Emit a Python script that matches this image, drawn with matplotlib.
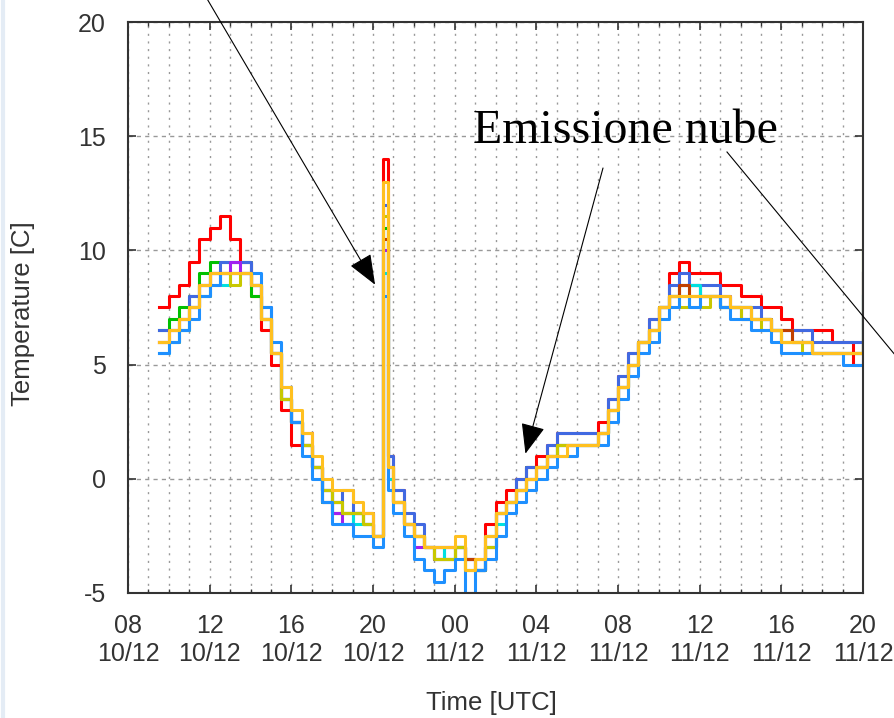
import pandas as pd
import matplotlib
matplotlib.use("Agg")
import matplotlib.pyplot as plt
import matplotlib.dates as mdates
from matplotlib.lines import Line2D

plt.rcParams['font.family'] = ['Liberation Sans', 'DejaVu Sans']
plt.rcParams['axes.unicode_minus'] = False

# campioni ogni 30 minuti, dal 10/12 09:30 al 11/12 20:00,
# piu' un campione alle 20:45 per il picco
tempi = pd.date_range('2012-12-10 09:30', periods=70, freq='30min')
tempi = tempi.insert(23, pd.Timestamp('2012-12-10 20:45'))

rosso = [7.5, 8.0, 8.5, 9.5, 10.5, 11.0, 11.5, 10.5, 9.5, 8.0,
         6.5, 5.0, 3.0, 1.5, 2.0, 0.5, -1.0, -1.5, -1.5, -1.5,
         -2.0, -2.5, 14.0, 1.0, -0.5, -2.0, -2.5, -3.0, -3.5, -3.5, -3.0,
         -3.5, -3.5, -2.0, -1.0, -0.5, 0.0, 0.5, 1.0, 1.5, 2.0,
         2.0, 2.0, 2.0, 2.5, 3.5, 4.5, 5.5, 6.0, 7.0, 7.5,
         9.0, 9.5, 9.0, 9.0, 9.0, 8.5, 8.5, 8.0, 8.0, 7.5,
         7.5, 7.0, 6.5, 6.5, 6.5, 6.5, 6.0, 6.0, 5.0, 6.0]
verde = [6.5, 7.0, 7.5, 8.0, 9.0, 9.5, 9.5, 9.5, 9.5, 8.0,
         7.0, 5.5, 3.5, 2.5, 1.5, 0.5, -1.0, -1.5, -1.5, -1.5,
         -2.0, -2.5, 11.0, 0.5, -1.0, -2.0, -2.5, -3.0, -3.5, -3.5, -3.0,
         -4.0, -4.0, -2.5, -1.5, -1.0, -0.5, 0.5, 0.5, 1.0, 1.5,
         1.5, 1.5, 1.5, 2.0, 3.0, 4.0, 5.0, 6.0, 6.5, 7.5,
         8.0, 8.5, 8.5, 8.0, 8.0, 7.5, 7.5, 7.5, 7.0, 7.0,
         6.5, 6.0, 6.0, 6.0, 5.5, 5.5, 5.5, 5.5, 5.5, 10.0]
blu = [6.5, 6.5, 7.0, 8.0, 8.5, 9.0, 9.5, 9.5, 9.5, 8.5,
       7.5, 5.5, 3.5, 2.5, 1.5, 0.5, -0.5, -1.0, -0.5, -1.5,
       -1.5, -2.5, 12.0, 1.0, -0.5, -1.5, -2.0, -3.0, -3.0, -3.0, -3.0,
       -3.5, -4.0, -2.5, -1.5, -1.0, 0.0, 0.5, 0.5, 1.5, 2.0,
       2.0, 2.0, 2.0, 2.0, 3.5, 4.5, 5.5, 6.0, 7.0, 7.5,
       8.5, 9.0, 8.5, 8.5, 8.5, 8.0, 7.5, 7.5, 7.5, 7.0,
       6.5, 6.5, 6.5, 6.5, 6.0, 6.0, 6.0, 6.0, 6.0, 9.0]
viola = [6.0, 6.5, 7.0, 7.5, 8.5, 9.0, 9.0, 9.5, 9.0, 8.5,
         7.0, 5.5, 3.5, 2.5, 1.5, 0.5, -0.5, -1.5, -2.0, -1.5,
         -2.0, -2.5, 10.0, 0.0, -1.0, -2.0, -3.0, -3.0, -3.5, -3.0, -3.0,
         -3.5, -4.0, -3.0, -1.5, -1.0, -0.5, 0.0, 0.5, 1.0, 1.5,
         1.5, 1.5, 1.5, 2.0, 3.0, 4.0, 5.0, 6.0, 6.5, 7.5,
         8.0, 8.5, 8.5, 8.0, 8.0, 8.0, 7.5, 7.5, 7.0, 7.0,
         6.5, 6.5, 6.0, 6.0, 5.5, 5.5, 5.5, 5.5, 5.5, 9.0]
ciano = [5.5, 6.0, 6.5, 7.5, 8.0, 9.0, 8.5, 9.0, 9.0, 8.5,
         7.0, 5.5, 3.5, 2.5, 1.5, 0.5, -0.5, -1.0, -1.5, -2.0,
         -2.0, -2.5, 9.0, 0.0, -1.0, -2.0, -2.5, -3.0, -3.0, -3.5, -3.0,
         -3.5, -4.0, -3.0, -2.0, -1.0, -0.5, 0.0, 0.5, 1.0, 1.5,
         1.5, 1.5, 1.5, 2.0, 3.0, 4.0, 5.0, 6.0, 6.5, 7.5,
         8.0, 8.0, 8.5, 8.0, 8.0, 7.5, 7.5, 7.5, 7.0, 7.0,
         6.5, 6.0, 6.0, 6.0, 5.5, 5.5, 5.5, 5.5, 5.5, 8.0]
marrone = [6.0, 6.5, 7.0, 7.5, 8.5, 9.0, 9.0, 9.0, 9.0, 8.5,
           7.0, 5.5, 3.5, 2.5, 1.5, 0.5, -0.5, -1.0, -1.5, -1.5,
           -1.5, -2.5, 10.5, 0.5, -1.0, -2.0, -2.5, -3.0, -3.0, -3.0, -3.0,
           -3.5, -4.0, -3.0, -1.5, -1.0, -0.5, 0.0, 0.5, 1.0, 1.5,
           1.5, 1.5, 1.5, 2.0, 3.0, 4.0, 5.0, 6.0, 6.5, 7.5,
           8.0, 8.5, 8.0, 8.0, 8.0, 7.5, 7.5, 7.0, 7.0, 7.0,
           6.5, 6.5, 6.0, 6.0, 5.5, 5.5, 5.5, 5.5, 5.5, 9.0]
oliva = [6.0, 6.0, 6.5, 7.5, 8.0, 8.5, 9.0, 8.5, 9.0, 8.5,
         7.0, 5.5, 3.5, 2.5, 1.5, 0.5, -0.5, -1.0, -1.5, -1.5,
         -2.0, -2.5, 11.5, 0.5, -1.0, -2.0, -2.5, -3.0, -3.5, -3.5, -3.0,
         -4.0, -4.0, -3.0, -1.5, -1.0, -0.5, 0.0, 0.5, 1.0, 1.5,
         1.5, 1.5, 1.5, 2.0, 3.0, 4.0, 5.0, 6.0, 6.5, 7.5,
         8.0, 7.5, 8.0, 7.5, 8.0, 7.5, 7.5, 7.0, 7.0, 6.5,
         6.5, 6.0, 6.0, 5.5, 5.5, 5.5, 5.5, 5.5, 5.5, 10.0]
azzurro = [5.5, 6.0, 6.5, 7.0, 8.0, 8.5, 9.0, 9.0, 9.0, 9.0,
           7.5, 6.0, 4.0, 2.5, 1.0, 0.0, -1.0, -2.0, -2.0, -2.5,
           -2.5, -3.0, 8.0, -0.5, -1.5, -2.5, -3.5, -4.0, -4.5, -4.0, -3.5,
           -5.0, -4.0, -3.5, -2.5, -1.5, -1.0, -0.5, 0.0, 0.5, 1.0,
           1.0, 1.5, 1.5, 1.5, 2.5, 3.5, 4.5, 5.5, 6.0, 7.0,
           7.5, 8.0, 7.5, 8.0, 8.0, 7.5, 7.0, 7.0, 6.5, 6.5,
           6.0, 5.5, 5.5, 5.5, 5.5, 5.5, 5.5, 5.0, 5.0, 8.0]
arancio = [6.0, 6.5, 7.0, 7.5, 8.5, 9.0, 9.0, 9.0, 9.0, 8.5,
           7.0, 5.5, 4.0, 3.0, 2.0, 1.0, 0.0, -0.5, -0.5, -1.0,
           -1.5, -2.5, 13.0, 0.5, -1.0, -2.0, -2.5, -3.0, -3.0, -3.0, -2.5,
           -4.0, -3.5, -2.5, -1.5, -1.0, -0.5, 0.0, 0.5, 1.0, 1.0,
           1.5, 1.5, 1.5, 2.0, 3.0, 4.0, 5.0, 6.0, 6.5, 7.5,
           8.0, 8.0, 8.0, 8.0, 8.0, 8.0, 7.5, 7.5, 7.0, 7.0,
           6.5, 6.0, 6.0, 6.0, 5.5, 5.5, 5.5, 5.5, 5.5, 15.5]

serie = [(rosso, '#ff0000'), (verde, '#00c000'), (blu, '#4169e1'),
         (viola, '#a020f0'), (ciano, '#00e0e0'), (marrone, '#c04000'),
         (oliva, '#c8c800'), (azzurro, '#1e90ff'), (arancio, '#ffc020')]

fig = plt.figure(figsize=(8.95, 7.18), dpi=100)
ax = fig.add_axes([128/895, 1 - 593/718, 735/895, 571/718])

for valori, colore in serie:
    ax.step(tempi, valori, where='post', color=colore, lw=2.2)

ax.set_xlim(pd.Timestamp('2012-12-10 08:00'), pd.Timestamp('2012-12-11 20:00'))
ax.set_ylim(-5, 20)
ax.set_yticks(range(-5, 21, 5))
ax.xaxis.set_major_locator(mdates.HourLocator(byhour=range(0, 24, 4)))
ax.xaxis.set_minor_locator(mdates.HourLocator())
ax.xaxis.set_major_formatter(mdates.DateFormatter('%H\n%d/%m'))

ax.grid(which='both', axis='x', ls=(0, (1.5, 4)), color='#999999', lw=1)
ax.grid(which='major', axis='y', ls=(0, (3, 3)), color='#999999', lw=1)
ax.set_axisbelow(True)

ax.tick_params(which='both', direction='in', top=True, right=True,
               color='#333333', labelcolor='#333333', labelsize=18)
ax.tick_params(which='major', length=6, width=1.2)
ax.tick_params(which='minor', length=3, width=1)
ax.tick_params(axis='x', pad=15)
ax.tick_params(axis='y', pad=16)
for s in ax.spines.values():
    s.set_color('#333333')
    s.set_linewidth(1.5)

ax.set_xlabel('Time [UTC]', fontsize=18.5, color='#333333')
ax.xaxis.set_label_coords(0.495, -0.172)
ax.set_ylabel('Temperature [C]', fontsize=18.5, color='#333333')
ax.yaxis.set_label_coords(-0.1265, 0.49)

# frecce e testo
stile = dict(arrowstyle='-|>,head_length=1.0,head_width=0.4', mutation_scale=19,
             color='black', lw=0.8, shrinkA=0, shrinkB=0)
ax.annotate('', xy=(pd.Timestamp('2012-12-10 20:06'), 8.5), xycoords='data',
            xytext=(196/895, 738/718), textcoords='figure fraction',
            arrowprops=stile, annotation_clip=False)
ax.annotate('', xy=(pd.Timestamp('2012-12-11 03:28'), 1.1), xycoords='data',
            xytext=(603/895, 1 - 168/718), textcoords='figure fraction',
            arrowprops=stile, annotation_clip=False)
fig.add_artist(Line2D([727/895, 915/895], [1 - 152/718, 1 - 379/718],
                      transform=fig.transFigure, color='black', lw=0.8))
fig.text(473/895, 1 - 143/718, 'Emissione nube', family='Liberation Serif',
         fontsize=34.5, va='baseline', ha='left')

fig.add_artist(Line2D([3/895, 3/895], [0, 1], transform=fig.transFigure,
                      color='#e4ecf5', lw=3))

fig.savefig('out.png', dpi=100)
